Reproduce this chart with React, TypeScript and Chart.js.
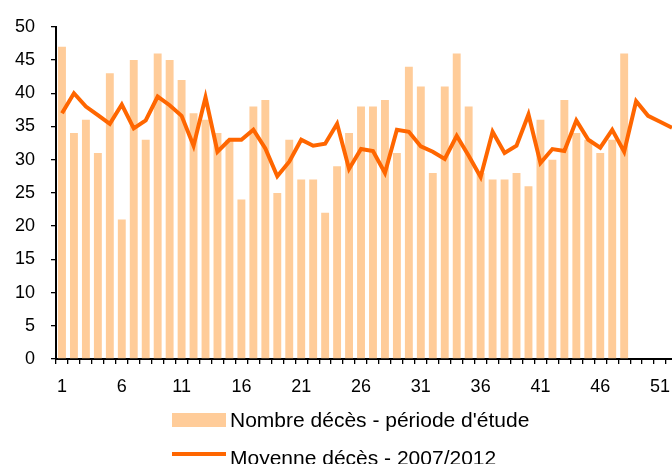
import React, { useEffect, useRef } from "react";
import { Chart, registerables } from "chart.js";

Chart.register(...registerables);

const weeks: string[] = Array.from({ length: 52 }, (_, i) => String(i + 1));

const deathsStudy: number[] = [
  47, 34, 36, 31, 43, 21, 45, 33, 46, 45,
  42, 37, 36, 34, 33, 24, 38, 39, 25, 33,
  27, 27, 22, 29, 34, 38, 38, 39, 31, 44,
  41, 28, 41, 46, 38, 28, 27, 27, 28, 26,
  36, 30, 39, 34, 33, 31, 33, 46,
];

const deathsAverage: number[] = [
  37.0, 40.0, 38.0, 36.7, 35.4, 38.3, 34.7, 35.9, 39.5, 38.2,
  36.6, 32.1, 39.4, 31.2, 33.0, 33.0, 34.5, 31.7, 27.5, 29.7,
  33.0, 32.1, 32.4, 35.4, 28.6, 31.6, 31.3, 28.0, 34.5, 34.2,
  32.0, 31.2, 30.1, 33.6, 30.6, 27.4, 34.2, 31.0, 32.1, 36.8,
  29.5, 31.6, 31.3, 35.9, 33.0, 31.8, 34.5, 31.2, 38.8, 36.6,
  35.7, 34.8,
];

const labelStudy = "Nombre décès - période d'étude";
const labelAverage = "Moyenne décès - 2007/2012";

const BAR_COLOR = "#FFCC99";
const LINE_COLOR = "#FF6600";
const FONT = "'Liberation Sans', Arial, sans-serif";

const legendPlugin = {
  id: "customLegend",
  afterDraw(chart: any) {
    const ctx = chart.ctx;
    ctx.save();
    ctx.font = `21px ${FONT}`;
    ctx.textBaseline = "middle";
    ctx.textAlign = "left";
    // row 1: bar swatch
    ctx.fillStyle = BAR_COLOR;
    ctx.fillRect(172, 413, 54, 14);
    ctx.fillStyle = "#000";
    ctx.fillText(chart.data.datasets[1].label, 230, 421);
    // row 2: line swatch
    ctx.strokeStyle = LINE_COLOR;
    ctx.lineWidth = 4;
    ctx.beginPath();
    ctx.moveTo(172, 454);
    ctx.lineTo(226, 454);
    ctx.stroke();
    ctx.fillText(chart.data.datasets[0].label, 230, 459);
    ctx.restore();
  },
};

export default function App() {
  const ref = useRef<HTMLCanvasElement | null>(null);

  useEffect(() => {
    if (!ref.current) return;
    const chart = new Chart(ref.current, {
      type: "bar",
      data: {
        labels: weeks,
        datasets: [
          {
            type: "line",
            label: labelAverage,
            data: deathsAverage,
            borderColor: LINE_COLOR,
            backgroundColor: LINE_COLOR,
            borderWidth: 4,
            pointRadius: 0,
            tension: 0,
            order: 0,
          } as any,
          {
            type: "bar",
            label: labelStudy,
            data: deathsStudy,
            backgroundColor: BAR_COLOR,
            borderWidth: 0,
            categoryPercentage: 1,
            barPercentage: 0.66,
            order: 1,
          },
        ],
      },
      options: {
        responsive: false,
        animation: false,
        devicePixelRatio: 1,
        layout: { padding: { top: 21, right: 12, bottom: 65, left: 0 } },
        plugins: {
          legend: { display: false },
          tooltip: { enabled: false },
        },
        scales: {
          x: {
            type: "category",
            offset: true,
            grid: {
              display: true,
              offset: true,
              drawOnChartArea: false,
              drawTicks: true,
              tickLength: 5,
              color: "#000",
              lineWidth: 1.3,
            },
            border: { display: true, color: "#000", width: 2 },
            ticks: {
              autoSkip: false,
              maxRotation: 0,
              minRotation: 0,
              padding: 12,
              color: "#000",
              font: { family: FONT, size: 18 },
              callback: (_v: any, i: number) => (i % 5 === 0 ? weeks[i] : ""),
            },
            afterFit: (scale: any) => {
              scale.height = 40;
            },
          },
          y: {
            min: 0,
            max: 50,
            grid: {
              display: true,
              drawOnChartArea: false,
              drawTicks: true,
              tickLength: 5,
              color: "#000",
              lineWidth: 1.3,
            },
            border: { display: true, color: "#000", width: 2 },
            ticks: {
              stepSize: 5,
              padding: 16,
              color: "#000",
              font: { family: FONT, size: 18 },
            },
            afterFit: (scale: any) => {
              scale.width = 56;
            },
          },
        },
      },
      plugins: [legendPlugin],
    });
    return () => chart.destroy();
  }, []);

  return (
    <div
      style={{
        position: "fixed",
        left: 0,
        top: 0,
        width: 672,
        height: 464,
        overflow: "hidden",
        background: "#fff",
      }}
    >
      <canvas ref={ref} width={690} height={464} style={{ display: "block" }} />
    </div>
  );
}
